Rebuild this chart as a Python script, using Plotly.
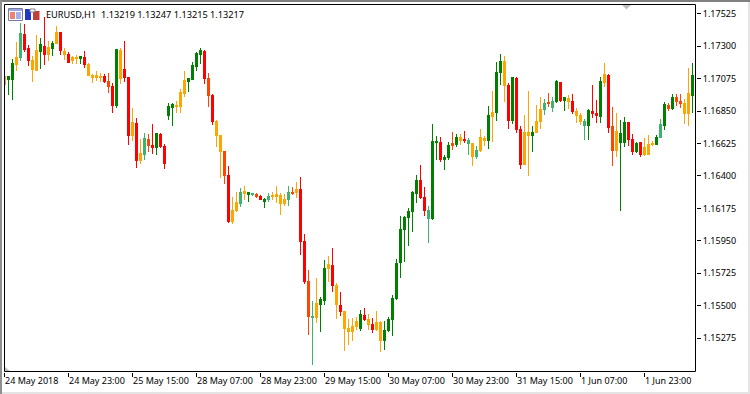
import plotly.graph_objects as go
import numpy as np

W, H = 750, 394
POINT = 1e-5  # forex "point": all prices below are integer points (1.17093 -> 117093)

high_pts = [117093,117093,117211,117329,117461,117454,117308,117232,117377,117356,
117502,117336,117336,117440,117398,117287,117259,117232,117239,117232,
117266,117183,117107,117128,117114,117107,117114,117044,117280,117287,
117336,117086,116871,116802,116656,116698,116691,116760,116698,116698,
116621,116906,116906,116920,117003,117128,117079,117190,117259,117287,
117273,117114,116968,116788,116684,116573,116469,116254,116289,116316,
116330,116289,116282,116282,116268,116247,116282,116289,116330,116282,
116275,116330,116323,116358,116393,115997,115748,115533,115692,115561,
115817,115845,115900,115658,115595,115464,115408,115415,115422,115470,
115484,115443,115415,115464,115394,115394,115422,115574,115824,116122,
116122,116178,116295,116407,116476,116323,116192,116760,116677,116670,
116545,116635,116705,116691,116691,116712,116663,116628,116608,116725,
116677,116885,116989,117190,117246,117232,117044,117086,117086,116746,
116823,116989,116746,116892,116947,116934,116975,116947,117065,117051,
116947,116961,116968,116871,116836,116795,116864,117031,116927,117086,
117183,117107,116878,116836,116788,116809,116774,116691,116635,116635,
116663,116684,116642,116684,116795,116913,116906,116968,116968,116968,
116934,117148,117183]

body_top_pts = [117093,117093,117183,117225,117391,117384,117287,117204,117273,117315,
117301,117294,117322,117398,117398,117266,117246,117225,117225,117232,
117225,117176,117100,117100,117093,117093,117058,117024,117280,117273,
117142,117086,116774,116767,116559,116663,116656,116615,116698,116691,
116608,116885,116899,116892,116982,117065,117079,117169,117252,117273,
117266,117079,116961,116781,116684,116573,116407,116164,116219,116289,
116295,116289,116275,116275,116261,116240,116261,116268,116275,116268,
116240,116289,116289,116309,116309,115949,115672,115429,115519,115547,
115762,115789,115782,115644,115505,115464,115346,115359,115394,115443,
115436,115408,115373,115387,115387,115332,115408,115554,115796,116032,
116115,116157,116289,116372,116372,116254,116164,116642,116642,116635,
116531,116615,116628,116670,116670,116656,116649,116628,116580,116670,
116663,116823,116843,117121,117197,117197,117031,117086,117079,116725,
116705,116705,116705,116781,116864,116906,116913,116920,117058,117051,
116947,116940,116920,116850,116823,116781,116857,116850,116836,117058,
117107,117100,116746,116712,116698,116774,116774,116656,116628,116635,
116601,116621,116628,116670,116760,116899,116892,116947,116947,116920,
116906,116975,117100]

body_bottom_pts = [117031,117065,117065,117169,117218,117273,117197,117135,117128,117259,
117239,117239,117280,117315,117266,117239,117183,117197,117211,117211,
117169,117093,117079,117079,117086,117051,117017,116885,116885,117072,
117079,116677,116677,116504,116504,116545,116608,116594,116594,116601,
116483,116816,116871,116878,116878,116968,117051,117065,117155,117239,
117072,116954,116774,116677,116566,116400,116081,116081,116157,116205,
116275,116268,116268,116254,116233,116219,116233,116254,116254,116205,
116205,116233,116275,116282,115942,115665,115422,115415,115415,115505,
115533,115755,115637,115505,115457,115339,115318,115318,115353,115339,
115401,115366,115332,115332,115256,115256,115325,115401,115547,115796,
116025,116108,116150,116275,116247,116157,116101,116101,116628,116511,
116511,116524,116608,116615,116642,116642,116621,116531,116531,116573,
116642,116642,116809,116836,117114,117024,116781,116781,116719,116476,
116476,116677,116677,116698,116774,116857,116899,116871,116913,116920,
116920,116913,116843,116816,116774,116746,116746,116830,116816,116809,
117044,116732,116573,116573,116628,116628,116649,116566,116566,116545,
116545,116545,116615,116615,116663,116746,116864,116864,116913,116899,
116830,116830,116954]

low_pts = [117031,116961,116927,117128,117197,117259,117162,117051,117128,117142,
117169,117197,117232,117315,117239,117204,117183,117176,117176,117176,
117148,117093,117044,117058,117051,117044,116975,116836,116871,117038,
117051,116615,116642,116455,116483,116511,116566,116552,116545,116594,
116448,116788,116746,116836,116836,116947,116982,117065,117128,117176,
117038,116878,116753,116601,116386,116344,116074,116067,116150,116185,
116233,116219,116261,116247,116233,116178,116219,116233,116212,116129,
116192,116192,116268,116247,115852,115651,115297,115089,115380,115318,
115505,115665,115595,115408,115429,115186,115228,115256,115332,115325,
115394,115332,115311,115325,115179,115193,115318,115290,115540,115692,
115803,115914,116011,116212,116240,116122,115935,116094,116511,116497,
116441,116511,116580,116601,116615,116628,116545,116469,116517,116566,
116608,116587,116635,116781,117031,116913,116725,116760,116698,116448,
116476,116400,116566,116698,116725,116823,116878,116843,116906,116913,
116850,116864,116830,116767,116753,116649,116649,116802,116767,116767,
117017,116698,116469,116531,116157,116601,116608,116545,116559,116531,
116538,116545,116608,116615,116663,116719,116850,116857,116885,116871,
116760,116746,116836]

# candle class: G strong up, S weak up, R strong down, E mid down, O weak down
candle_class = list(
    "OGGOSRROOG"
    "ROGOROROOG"
    "ROOOORERGO"
    "RROROSERGR"
    "RGGOOOGGGG"
    "REROOEROOS"
    "OGSERGSOOO"
    "OSEORRESOG"
    "GOROROOOOG"
    "ROROOGGGGG"
    "GGGGRRSGGR"
    "GGEGORSOSO"
    "OGOGGORGRR"
    "OOGOOSESGR"
    "GOROOSGRRG"
    "OREOGGRRGR"
    "OOOGSGEGEE"
    "OOG"
)

tick_prices = [1.17525, 1.17300, 1.17075, 1.16850, 1.16625, 1.16400,
               1.16175, 1.15950, 1.15725, 1.15500, 1.15275]
tick_candles = [0, 16, 32, 48, 64, 80, 96, 112, 128, 144, 160]
tick_dates = ["24 May 2018", "24 May 23:00", "25 May 15:00", "28 May 07:00",
              "28 May 23:00", "29 May 15:00", "30 May 07:00", "30 May 23:00",
              "31 May 15:00", "1 Jun 07:00", "1 Jun 23:00"]
title_text = "EURUSD,H1  1.13219 1.13247 1.13215 1.13217"

PALETTE = {"G": "#008000", "S": "#3CB371", "R": "#FF0000", "E": "#FF4500", "O": "#FFA500"}
FONT = "Noto Sans"
n = len(high_pts)
lens = [len(a) for a in (high_pts, body_top_pts, body_bottom_pts, low_pts, candle_class)]
assert len(set(lens)) == 1, lens

idx = np.arange(n)
high = np.array(high_pts) * POINT
low = np.array(low_pts) * POINT
btop = np.array(body_top_pts) * POINT
bbot = np.array(body_bottom_pts) * POINT
colors = [PALETTE[c] for c in candle_class]

fig = go.Figure()
fig.add_bar(x=idx, base=low, y=high - low, width=0.2, marker=dict(color=colors, line_width=0), hoverinfo="skip")
fig.add_bar(x=idx, base=bbot, y=btop - bbot, width=0.75, marker=dict(color=colors, line_width=0), hoverinfo="skip")

L, R, T, B = 4, 54, 4, 22
pw, ph = W - L - R, H - T - B
px = lambda v: (v - L) / pw
py = lambda v: 1 - (v - T) / ph


def rect(x0, y0, x1, y1, fill=None, line=None, lw=1):
    return dict(type="rect", xref="paper", yref="paper", x0=px(x0), x1=px(x1), y0=py(y0), y1=py(y1),
                fillcolor=fill or "rgba(0,0,0,0)", line=dict(color=line or "rgba(0,0,0,0)", width=lw if line else 0),
                layer="above")


def poly(pts, fill):
    path = "M" + " L".join(f"{px(a):.5f},{py(b):.5f}" for a, b in pts) + " Z"
    return dict(type="path", xref="paper", yref="paper", path=path, fillcolor=fill, line_width=0, layer="above")


shapes = [
    rect(0, 0, W, 2, fill="#808080"),
    rect(0, 0, 2, H, fill="#909090"),
    rect(748, 2, W, H, fill="#E4E4E4"),
    rect(2, 392, W, H, fill="#E4E4E4"),
    rect(4.5, 4.5, 695.5, 371.5, line="#000000"),
    poly([(622, 5), (631, 5), (626.5, 9.5)], "#C0C0C0"),
    poly([(5, 367), (5, 371), (10, 371)], "#C0C0C0"),
    # left toolbar icon: table window
    rect(8.5, 8.5, 22.5, 20.5, fill="#FFFFFF", line="#7A7AA0"),
    rect(9, 9, 22, 11, fill="#9AA8E0"),
    rect(10, 12, 15, 19, fill="#F08070"),
    rect(16, 12, 21, 19, fill="#A0B0F0"),
    # second toolbar icon: blue and red candle blocks
    rect(25, 9, 31, 20, fill="#2038C8"),
    rect(33, 11, 39.5, 20, fill="#C04038"),
    rect(30, 9, 35, 12, fill="#FFFFFF", line="#808080"),
]

fig.update_layout(
    width=W, height=H, barmode="overlay", showlegend=False,
    margin=dict(l=L, r=R, t=T, b=B, pad=0),
    paper_bgcolor="#FFFFFF", plot_bgcolor="#FFFFFF",
    font=dict(family=FONT, size=9, color="#000000"),
    shapes=shapes,
    xaxis=dict(range=[-0.125, 172.875], showgrid=False, zeroline=False, showline=False,
               tickmode="array", tickvals=tick_candles, ticktext=tick_dates, ticks="outside",
               ticklen=4, tickwidth=1, tickcolor="#000000", ticklabelposition="outside right",
               tickangle=0, tickfont=dict(family=FONT, size=9)),
    yaxis=dict(range=[1.150405, 1.175923], side="right", showgrid=False, zeroline=False, showline=False,
               tickmode="array", tickvals=tick_prices, ticktext=[f"{v:.5f}" for v in tick_prices],
               ticks="outside", ticklen=4, tickwidth=1, tickcolor="#000000",
               tickfont=dict(family=FONT, size=9)),
    annotations=[dict(text=title_text, xref="paper", yref="paper", x=px(44), y=py(14.5),
                      xanchor="left", yanchor="middle", showarrow=False,
                      font=dict(family=FONT, size=9.2, color="#000000"))],
)

fig.write_html("out.html", config={"displayModeBar": False},
               post_script="document.body.style.margin='0';")
